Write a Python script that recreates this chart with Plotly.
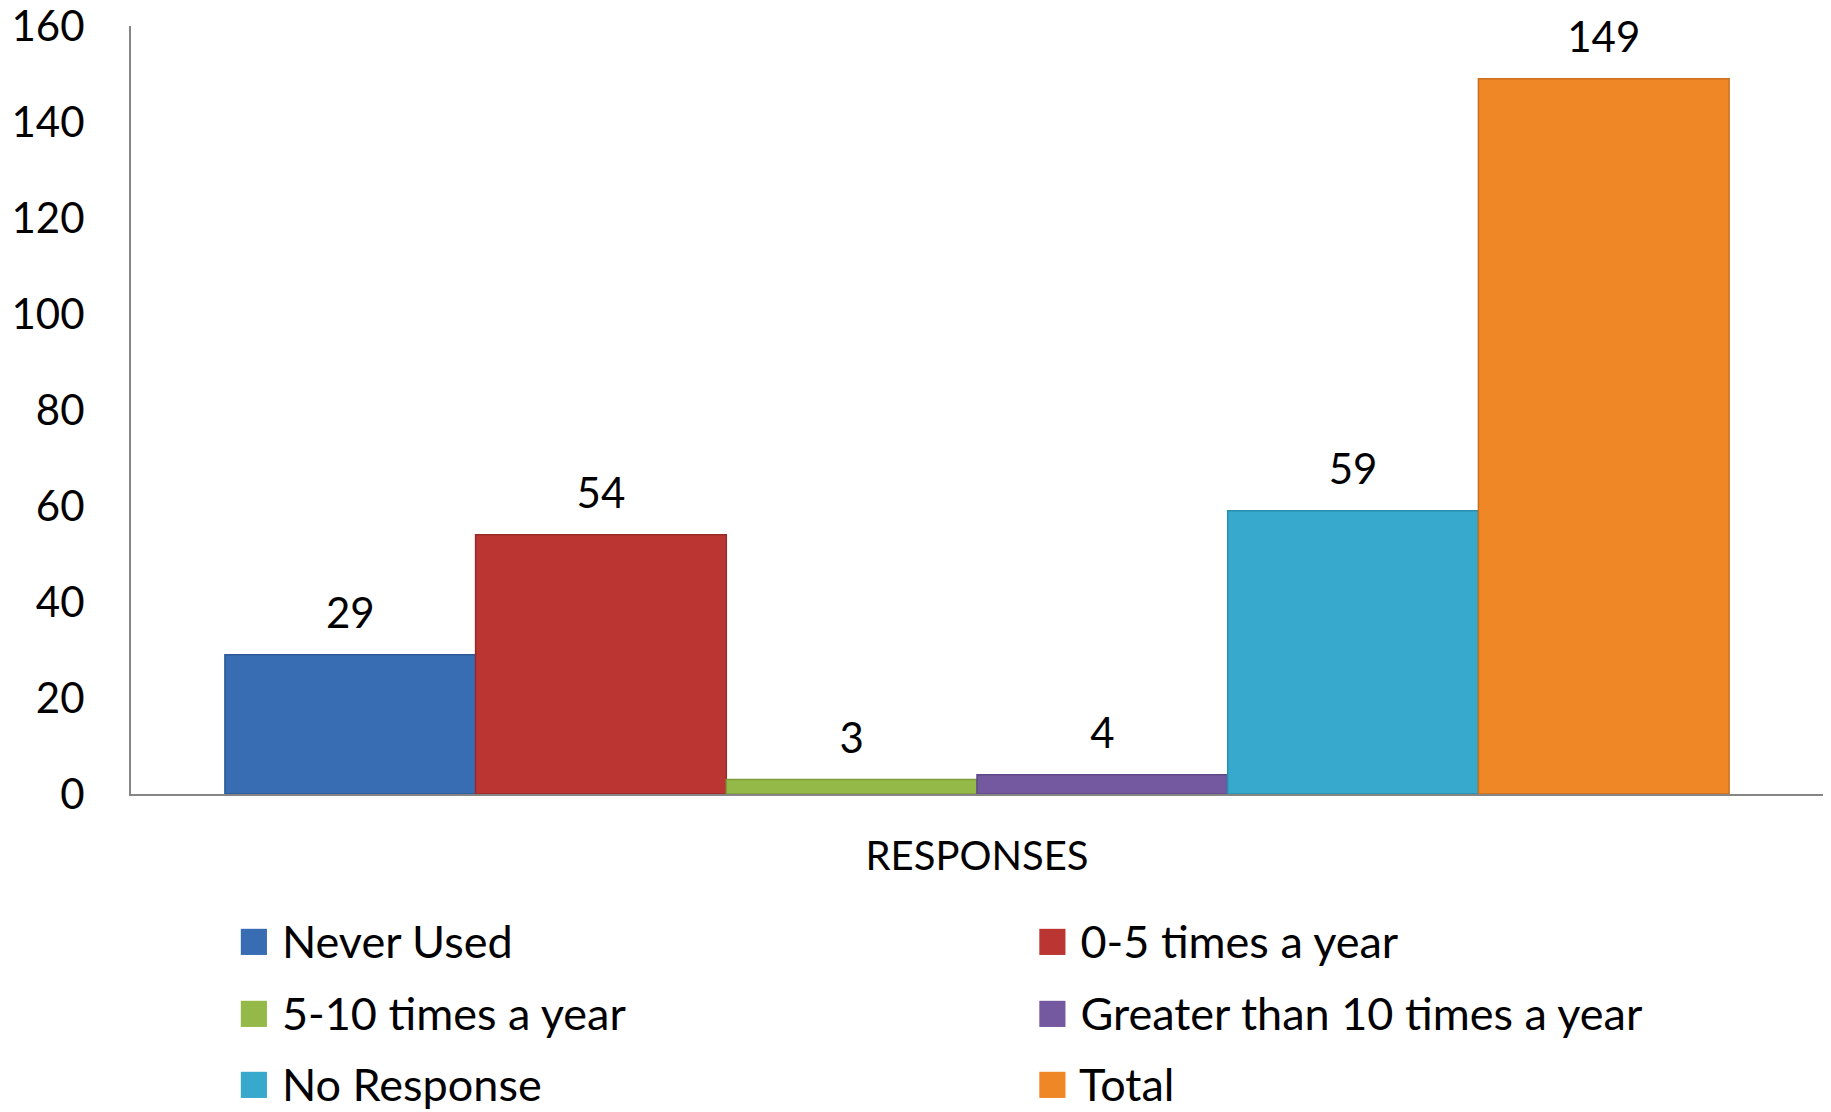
import plotly.graph_objects as go

# Survey responses: how often the service is used
category = ["RESPONSES"]
series_names = [
    "Never Used",
    "0-5 times a year",
    "5-10 times a year",
    "Greater than 10 times a year",
    "No Response",
    "Total",
]
series_values = [29, 54, 3, 4, 59, 149]
series_colors = ["#386cb3", "#bb3633", "#94b948", "#7459a0", "#37a9cc", "#f08726"]
edge_colors = ["#2d5a96", "#9a2a28", "#7c9c3a", "#5f4887", "#2a8fae", "#c96f1f"]

y_ticks = [0, 20, 40, 60, 80, 100, 120, 140, 160]

FONT = "Lato"
LABEL_SIZE = 42
LEGEND_SIZE = 45

fig = go.Figure()

for name, val, col, edge in zip(series_names, series_values, series_colors, edge_colors):
    # value label sits above the bar; the small trailing line lifts it off the bar top
    label = f"<span style='font-size:{LABEL_SIZE}px'>{val}</span><br>\u00a0"
    fig.add_trace(go.Bar(
        x=category,
        y=[val],
        name=name,
        legendgroup=name,
        showlegend=False,
        marker=dict(color=col, line=dict(color=edge, width=1.5)),
        text=[label],
        textposition="outside",
        textfont=dict(family=FONT, size=16, color="#000000"),
        cliponaxis=False,
    ))

# legend entries carry a large colour square drawn as a glyph
for name, col in zip(series_names, series_colors):
    fig.add_trace(go.Scatter(
        x=[None], y=[None],
        mode="markers",
        marker=dict(opacity=0, size=1, color="rgba(0,0,0,0)"),
        name=f"<span style='color:{col};font-size:54px'>\u25a0</span> {name}",
        legendgroup=name,
        showlegend=True,
        hoverinfo="skip",
    ))

fig.update_layout(
    width=1831,
    height=1112,
    margin=dict(l=131, r=8, t=26, b=318, autoexpand=False),
    paper_bgcolor="#ffffff",
    plot_bgcolor="#ffffff",
    barmode="group",
    bargap=0.111,
    bargroupgap=0,
    font=dict(family=FONT, size=LABEL_SIZE, color="#000000"),
    showlegend=True,
    legend=dict(
        orientation="h",
        entrywidth=0.469,
        entrywidthmode="fraction",
        xref="container",
        yref="container",
        x=0.108,
        xanchor="left",
        y=0.186,
        yanchor="top",
        font=dict(family=FONT, size=LEGEND_SIZE, color="#000000"),
        itemwidth=30,
        bgcolor="rgba(0,0,0,0)",
    ),
    xaxis=dict(
        type="category",
        automargin=False,
        showline=True,
        linecolor="#868686",
        linewidth=2,
        showgrid=False,
        zeroline=False,
        ticks="",
        tickfont=dict(family=FONT, size=40, color="#000000"),
        ticklabelstandoff=26,
    ),
    yaxis=dict(
        range=[0, 160],
        automargin=False,
        tickvals=y_ticks,
        ticklabeloverflow="allow",
        showline=True,
        linecolor="#868686",
        linewidth=2,
        showgrid=False,
        zeroline=False,
        ticks="",
        tickfont=dict(family=FONT, size=LABEL_SIZE, color="#000000"),
        ticklabelstandoff=36,
    ),
)

fig.write_html("out.html")
